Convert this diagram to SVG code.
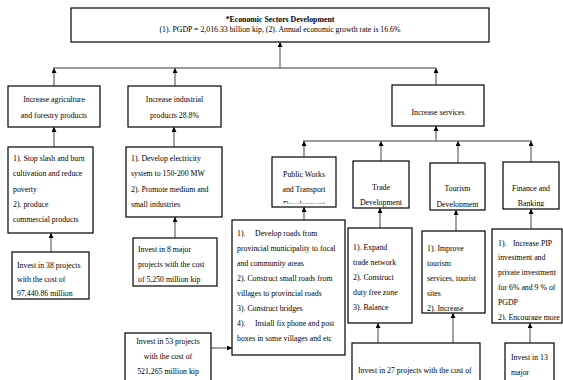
<svg xmlns="http://www.w3.org/2000/svg" width="563" height="380" viewBox="0 0 563 380">
<style>
.box{fill:#fff;stroke:#000;stroke-width:1.2}
.t{font-family:"Liberation Serif","Times New Roman",serif;font-size:7.8px;fill:#000}
.c{text-anchor:middle}
.b{font-weight:bold}
.con{fill:none;stroke:#7a7a7a;stroke-width:1.4}
</style>
<defs>
<marker id="ah" viewBox="0 0 10 10" refX="10" refY="5" markerWidth="5" markerHeight="5" orient="auto" markerUnits="userSpaceOnUse"><path d="M0,0 L10,5 L0,10 z" fill="#000"/></marker>
<clipPath id="cpPW"><rect x="273" y="158" width="62" height="45.5"/></clipPath>
<clipPath id="cpTour"><rect x="431" y="164" width="53" height="43"/></clipPath>
<clipPath id="cpFin"><rect x="504" y="163" width="54" height="43.5"/></clipPath>
<clipPath id="cpFinC"><rect x="493" y="230" width="69" height="90"/></clipPath>
</defs>
<rect width="563" height="380" fill="#fff"/>

<g id="connectors">
<path class="con" d="M53,68 H436"/>
<path class="con" d="M280,68 V42" marker-end="url(#ah)"/>
<path class="con" d="M54,86 V68" marker-end="url(#ah)"/>
<path class="con" d="M175,86 V68" marker-end="url(#ah)"/>
<path class="con" d="M436,85 V68" marker-end="url(#ah)"/>
<path class="con" d="M54,147 V127" marker-end="url(#ah)"/>
<path class="con" d="M174,147 V127" marker-end="url(#ah)"/>
<path class="con" d="M51,252 V233" marker-end="url(#ah)"/>
<path class="con" d="M175,238 V217" marker-end="url(#ah)"/>
<path class="con" d="M436,141 V126" marker-end="url(#ah)"/>
<path class="con" d="M303,141 H532"/>
<path class="con" d="M304,157 V141" marker-end="url(#ah)"/>
<path class="con" d="M381,161 V141" marker-end="url(#ah)"/>
<path class="con" d="M458,163 V141" marker-end="url(#ah)"/>
<path class="con" d="M531,162 V141" marker-end="url(#ah)"/>
<path class="con" d="M304,220 V207" marker-end="url(#ah)"/>
<path class="con" d="M380,228 V208" marker-end="url(#ah)"/>
<path class="con" d="M456,231 V210" marker-end="url(#ah)"/>
<path class="con" d="M531,229 V209" marker-end="url(#ah)"/>
<path class="con" d="M211,348 H232" marker-end="url(#ah)"/>
<path class="con" d="M378,343 V323" marker-end="url(#ah)"/>
<path class="con" d="M453,343 V313" marker-end="url(#ah)"/>
<path class="con" d="M530,343 V323" marker-end="url(#ah)"/>
</g>

<g id="economic-sectors">
<rect class="box" x="71" y="8" width="418" height="34"/>
<text class="t c b" x="280" y="22">*Economic Sectors Development</text>
<text class="t c" x="280" y="31.5">(1). PGDP = 2,016.33 billion kip, (2). Annual economic growth rate is 16.6%</text>
</g>

<g id="agriculture">
<rect class="box" x="8" y="86" width="92" height="41"/>
<text class="t c" x="54" y="102">Increase agriculture</text>
<text class="t c" x="54" y="117.5">and forestry products</text>
</g>

<g id="industrial">
<rect class="box" x="128" y="86" width="93" height="41"/>
<text class="t c" x="174.5" y="102">Increase industrial</text>
<text class="t c" x="174.5" y="117.5">products 28.8%</text>
</g>

<g id="services">
<rect class="box" x="392" y="85" width="92" height="41"/>
<text class="t c" x="438" y="114.5">Increase services</text>
</g>

<g id="agri-actions">
<rect class="box" x="8" y="147" width="85" height="86"/>
<text class="t" x="13" y="160.5">1). Stop slash and burn</text>
<text class="t" x="13" y="176">cultivation and reduce</text>
<text class="t" x="13" y="191.5">poverty</text>
<text class="t" x="13" y="206.5">2). produce</text>
<text class="t" x="13" y="221.5">commercial products</text>
</g>

<g id="industrial-actions">
<rect class="box" x="126" y="147" width="96" height="70"/>
<text class="t" x="131" y="160.5">1). Develop electricity</text>
<text class="t" x="131" y="176">system to 150-200 MW</text>
<text class="t" x="131" y="191.5">2). Promote medium and</text>
<text class="t" x="131" y="206.5">small industries</text>
</g>

<g id="invest-38">
<rect class="box" x="12" y="252" width="77" height="47"/>
<text class="t" x="17" y="267.5">Invest in 38 projects</text>
<text class="t" x="17" y="281.5">with the cost of</text>
<text class="t" x="17" y="295.5">97,440.86 million</text>
</g>

<g id="invest-8">
<rect class="box" x="133" y="238" width="84" height="48"/>
<text class="t" x="138" y="251.5">Invest in 8 major</text>
<text class="t" x="138" y="266.5">projects with the cost</text>
<text class="t" x="138" y="281.5">of 5,250 million kip</text>
</g>

<g id="public-works">
<rect class="box" x="272" y="157" width="64" height="50"/>
<g clip-path="url(#cpPW)">
<text class="t c" x="304" y="176.5">Public Works</text>
<text class="t c" x="304" y="191.5">and Transport</text>
<text class="t c" x="304" y="207">Development</text>
</g>
</g>

<g id="trade">
<rect class="box" x="353" y="161" width="56" height="47"/>
<text class="t c" x="381" y="189.5">Trade</text>
<text class="t c" x="381" y="204.5">Development</text>
</g>

<g id="tourism">
<rect class="box" x="430" y="163" width="55" height="47"/>
<g clip-path="url(#cpTour)">
<text class="t c" x="457.5" y="190.5">Tourism</text>
<text class="t c" x="457.5" y="206.5">Development</text>
</g>
</g>

<g id="finance">
<rect class="box" x="503" y="162" width="56" height="47"/>
<g clip-path="url(#cpFin)">
<text class="t c" x="531" y="190.5">Finance and</text>
<text class="t c" x="531" y="205.5">Banking</text>
</g>
</g>

<g id="pw-actions">
<rect class="box" x="232" y="220" width="113" height="135"/>
<text class="t" x="237" y="235.5">1).</text><text class="t" x="255" y="235.5">Develop roads from</text>
<text class="t" x="237" y="250.5">provincial municipality to focal</text>
<text class="t" x="237" y="265.5">and community areas</text>
<text class="t" x="237" y="280.5">2). Construct small roads from</text>
<text class="t" x="237" y="295.5">villages to provincial roads</text>
<text class="t" x="237" y="310.5">3). Construct bridges</text>
<text class="t" x="237" y="325.5">4).</text><text class="t" x="255" y="325.5">Install fix phone and post</text>
<text class="t" x="237" y="340.5">boxes in some villages and etc</text>
</g>

<g id="trade-actions">
<rect class="box" x="348" y="228" width="64" height="95"/>
<text class="t" x="353" y="249.5">1). Expand</text>
<text class="t" x="353" y="264.5">trade network</text>
<text class="t" x="353" y="279.5">2). Construct</text>
<text class="t" x="353" y="294.5">duty free zone</text>
<text class="t" x="353" y="309.5">3). Balance</text>
</g>

<g id="tourism-actions">
<rect class="box" x="422" y="231" width="63" height="82"/>
<text class="t" x="427" y="250.5">1). Improve</text>
<text class="t" x="427" y="265.5">tourism</text>
<text class="t" x="427" y="280.5">services, tourist</text>
<text class="t" x="427" y="295.5">sites</text>
<text class="t" x="427" y="310.5">2). Increase</text>
</g>

<g id="finance-actions">
<rect class="box" x="492" y="229" width="70" height="94"/>
<g clip-path="url(#cpFinC)">
<text class="t" x="498" y="245.5">1).</text><text class="t" x="513" y="245.5">Increase PIP</text>
<text class="t" x="498" y="260">investment and</text>
<text class="t" x="498" y="275">private investment</text>
<text class="t" x="498" y="290">for 6% and 9 % of</text>
<text class="t" x="498" y="305">PGDP</text>
<text class="t" x="498" y="320">2). Encourage more</text>
</g>
</g>

<g id="invest-53">
<rect class="box" x="125" y="333" width="86" height="60"/>
<text class="t c" x="168" y="344">Invest in 53 projects</text>
<text class="t c" x="168" y="359">with the cost of</text>
<text class="t c" x="168" y="374">521,265 million kip</text>
</g>

<g id="invest-27">
<rect class="box" x="352" y="343" width="128" height="50"/>
<text class="t" x="358" y="373">Invest in 27 projects with the cost of</text>
</g>

<g id="invest-13">
<rect class="box" x="505" y="343" width="49" height="50"/>
<text class="t" x="511" y="359.5">Invest in 13</text>
<text class="t" x="511" y="374.5">major</text>
</g>
</svg>
